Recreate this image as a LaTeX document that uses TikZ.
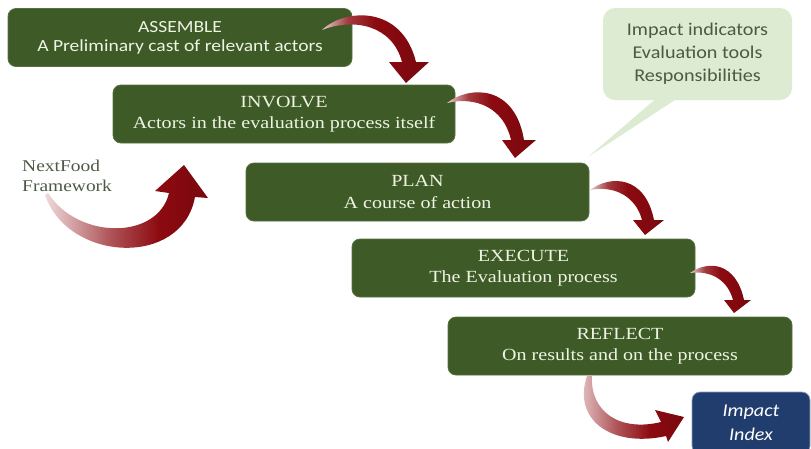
\documentclass[tikz,border=0pt]{standalone}
\usepackage{fontspec}
\setmainfont{Liberation Serif}[FakeStretch=1.18]
\newfontfamily\calib{Carlito}[FakeStretch=1.15]
\newfontfamily\calibplain{Carlito}[FakeStretch=1.12]
\definecolor{boxgreen}{HTML}{3E5B27}
\definecolor{boxedge}{HTML}{56703F}
\definecolor{boxtext}{HTML}{EEF3E4}
\definecolor{arrred}{HTML}{8C0A10}
\definecolor{calloutfill}{HTML}{DDEBD3}
\definecolor{callouttext}{HTML}{4B5A40}
\definecolor{navy}{HTML}{203D6E}
\definecolor{navyedge}{HTML}{8FA0BC}
\definecolor{nftext}{HTML}{4E5A47}
\pgfdeclarehorizontalshading{redfade}{100bp}{color(0bp)=(arrred!20!white); color(25bp)=(arrred!20!white);
  color(37bp)=(arrred!80!white); color(50bp)=(arrred); color(75bp)=(arrred!85!black); color(100bp)=(arrred!85!black)}
\pgfdeclarehorizontalshading{redfadeb}{100bp}{color(0bp)=(arrred!15!white); color(25bp)=(arrred!15!white);
  color(45bp)=(arrred!70!white); color(60bp)=(arrred); color(75bp)=(arrred!85!black); color(100bp)=(arrred!85!black)}
\tikzset{
  stage/.style={rectangle, rounded corners=8pt, fill=boxgreen, draw=boxedge,
    line width=0.8pt, text=boxtext, align=center, minimum height=58pt, inner sep=0pt},
  sanstext/.style={font=\calib\fontsize{17}{19}\selectfont},
  seriftext/.style={font=\fontsize{17}{21.5}\selectfont},
  redarrow/.style={shading=redfade},
  redarrowb/.style={shading=redfadeb},
}
\begin{document}
\begin{tikzpicture}[x=1pt,y=-1pt]
\useasboundingbox (0,0) rectangle (811,448);
% callout
\node[fill=calloutfill, rounded corners=12pt, minimum width=189pt, minimum height=92pt,
      text=callouttext, align=center, font=\calibplain\fontsize{18}{23}\selectfont]
      (note) at (697.5,54) {Impact indicators\\Evaluation tools\\Responsibilities};
\coordinate (notetip) at (588,157);
\fill[calloutfill] (659,96) -- (notetip) -- (681,96) -- cycle;
% stages
\node[stage, sanstext, minimum width=344pt] (b1) at (180,37.5)
  {ASSEMBLE\\A Preliminary cast of relevant actors};
\node[stage, seriftext, minimum width=342pt] (b2) at (284,114)
  {INVOLVE\\Actors in the evaluation process itself};
\node[stage, seriftext, minimum width=343pt] (b3) at (417.5,192)
  {PLAN\\A course of action};
\node[stage, seriftext, minimum width=343pt] (b4) at (523.5,268)
  {EXECUTE\\The Evaluation process};
\node[stage, seriftext, minimum width=344pt] (b5) at (620,346)
  {REFLECT\\On results and on the process};
\node[rectangle, rounded corners=8pt, fill=navy, draw=navyedge, line width=0.8pt,
      minimum width=118pt, minimum height=62pt, text=white, align=center,
      font=\calibplain\itshape\fontsize{18}{24}\selectfont] (ix) at (751,423) {Impact\\Index};
% framework label
\node[anchor=base west, inner sep=0pt, text=nftext, align=left,
      font=\fontsize{16.5}{20}\selectfont] (nf) at (22,191) {NextFood\\Framework};
% arrows
\path[redarrow] (322,30) .. controls (345,8) and (402,5) .. (416,62)
  -- (429,62) -- (406,83) -- (389,62) -- (402,62)
  .. controls (392,24) and (352,18) .. (322,30) -- cycle;
\path[redarrow] (447,103) .. controls (470,85) and (515,85) .. (524,140)
  -- (536,140) -- (515,158) -- (502,140) -- (511,140)
  .. controls (504,108) and (476,96) .. (447,103) -- cycle;
\path[redarrow] (590,190) .. controls (610,175) and (645,175) .. (654,220)
  -- (664,220) -- (645,235) -- (633,220) -- (642,220)
  .. controls (636,197) and (615,185) .. (590,190) -- cycle;
\path[redarrow] (690,273) .. controls (708,260) and (736,262) .. (744,300)
  -- (751,300) -- (734,313) -- (724,300) -- (733,300)
  .. controls (728,281) and (712,270) .. (690,273) -- cycle;
\path[redarrowb] (587,376) .. controls (572,420) and (612,448) .. (666,436)
  -- (668,442) -- (684,417) -- (655,410) -- (661,422)
  .. controls (620,432) and (590,412) .. (592,376) -- cycle;
\path[redarrowb] (45,195) .. controls (68,262) and (182,268) .. (195,197)
  -- (208,198) -- (184,165) -- (155,191) -- (169,193)
  .. controls (158,240) and (78,240) .. (48,193) -- cycle;
\end{tikzpicture}
\end{document}
